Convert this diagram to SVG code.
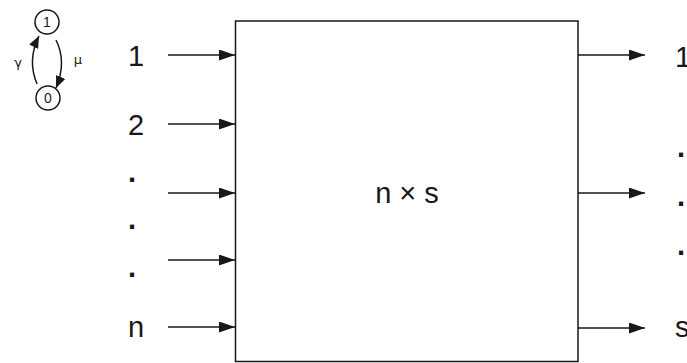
<svg xmlns="http://www.w3.org/2000/svg" width="687" height="363" viewBox="0 0 687 363">
<style>
.t{font-family:"Liberation Sans",Arial,sans-serif;font-size:29px;fill:#1a1718}
.d{font-weight:bold}
.s{font-family:"Liberation Sans",Arial,sans-serif;font-size:14px;fill:#1a1718}
.g{font-family:"DejaVu Sans","Liberation Sans",sans-serif;font-size:13px;fill:#1a1718}
.ln{stroke:#1a1718;stroke-width:1.5;fill:none}
</style>
<defs>
<marker id="ah" markerWidth="16" markerHeight="11" refX="16" refY="5.5" orient="auto" markerUnits="userSpaceOnUse">
<path d="M0,0 L16,5.5 L0,11 Z" fill="#1a1718"/>
</marker>
<marker id="sh" markerWidth="12" markerHeight="10" refX="12" refY="5" orient="auto" markerUnits="userSpaceOnUse">
<path d="M0,0 L12,5 L0,10 Z" fill="#1a1718"/>
</marker>
</defs>
<rect width="687" height="363" fill="#fff"/>
<g id="state1"><circle cx="47" cy="22" r="12" class="ln"/><text class="s" x="47" y="27" text-anchor="middle">1</text></g>
<g id="state0"><circle cx="48" cy="98" r="12" class="ln"/><text class="s" x="48" y="103" text-anchor="middle">0</text></g>
<g id="box"><rect x="235.5" y="21" width="342.5" height="340.5" class="ln"/><text class="t" x="407" y="203" text-anchor="middle">n × s</text></g>
<g id="inputs">
<text class="t" x="128" y="66">1</text>
<text class="t" x="128" y="135">2</text>
<text class="t d" x="128" y="182">.</text>
<text class="t d" x="128" y="229">.</text>
<text class="t d" x="128" y="277">.</text>
<text class="t" x="128" y="337">n</text>
</g>
<g id="outputs">
<text class="t" x="675" y="67">1</text>
<text class="t d" x="677" y="157">.</text>
<text class="t d" x="677" y="206">.</text>
<text class="t d" x="677" y="255">.</text>
<text class="t" x="675" y="337">s</text>
</g>
<g id="connectors">
<path class="ln" d="M37,84 Q27,60 39,36" marker-end="url(#sh)"/>
<path class="ln" d="M56,40 Q67,62 56,88" marker-end="url(#sh)"/>
<text class="g" x="18" y="67" text-anchor="middle">γ</text>
<text class="g" x="78" y="64" text-anchor="middle">μ</text>
<line class="ln" x1="168" y1="55" x2="235" y2="55" marker-end="url(#ah)"/>
<line class="ln" x1="168" y1="124" x2="235" y2="124" marker-end="url(#ah)"/>
<line class="ln" x1="168" y1="193" x2="235" y2="193" marker-end="url(#ah)"/>
<line class="ln" x1="168" y1="260" x2="235" y2="260" marker-end="url(#ah)"/>
<line class="ln" x1="168" y1="327" x2="235" y2="327" marker-end="url(#ah)"/>
<line class="ln" x1="578" y1="55" x2="645" y2="55" marker-end="url(#ah)"/>
<line class="ln" x1="578" y1="193" x2="645" y2="193" marker-end="url(#ah)"/>
<line class="ln" x1="578" y1="328" x2="645" y2="328" marker-end="url(#ah)"/>
</g>
</svg>
